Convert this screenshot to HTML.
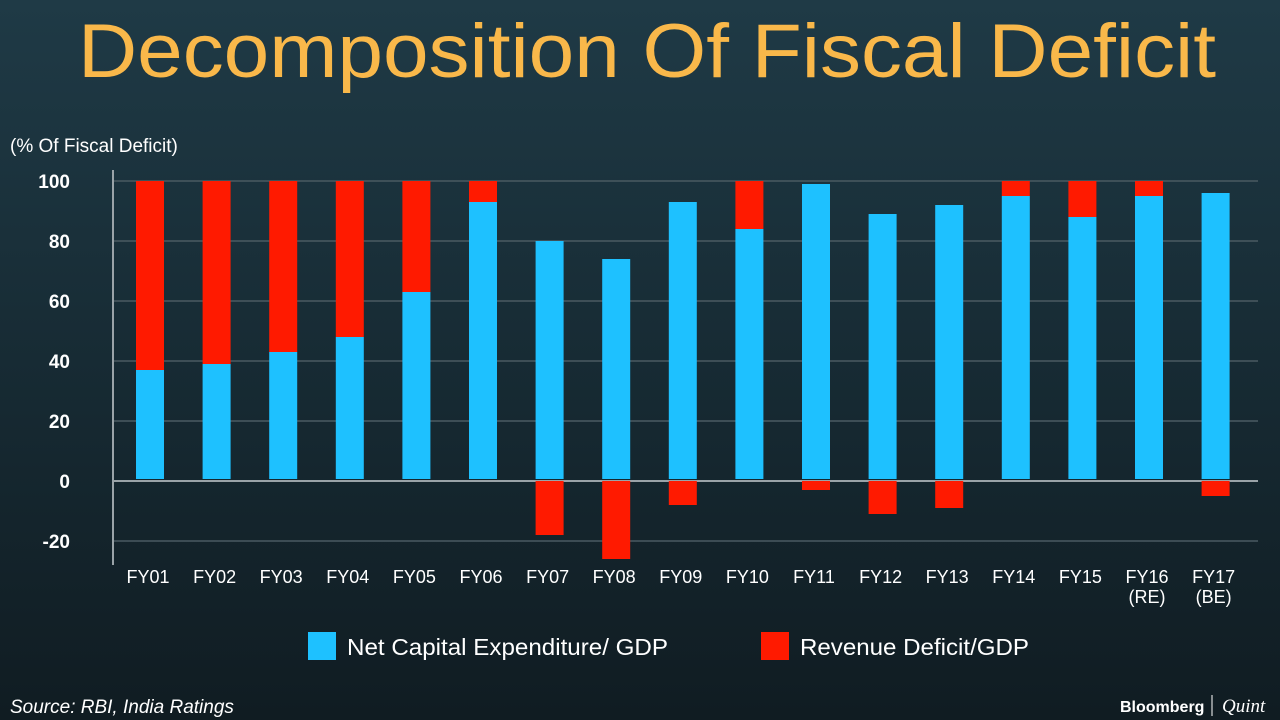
<!DOCTYPE html>
<html><head><meta charset="utf-8"><style>
html,body{margin:0;width:1280px;height:720px;overflow:hidden;}
body{background:linear-gradient(180deg,#1f3a46 0%,#172b34 50%,#101c22 100%);font-family:"Liberation Sans",sans-serif;}
svg{display:block}
</style></head><body>
<svg id="c" width="1280" height="720" xmlns="http://www.w3.org/2000/svg">
<text x="647" y="77" text-anchor="middle" font-size="76" textLength="1138" lengthAdjust="spacingAndGlyphs" fill="#f9b84a">Decomposition Of Fiscal Deficit</text>
<text x="10" y="152" font-size="19" fill="#fff">(% Of Fiscal Deficit)</text>
<g id="grid"></g><g id="bars"></g><g id="xl"></g>
<rect x="308" y="632" width="28" height="28" fill="#1ec1ff"/>
<text x="347" y="655" font-size="23" textLength="321" lengthAdjust="spacingAndGlyphs" fill="#fff">Net Capital Expenditure/ GDP</text>
<rect x="761" y="632" width="28" height="28" fill="#ff1a00"/>
<text x="800" y="655" font-size="23" textLength="229" lengthAdjust="spacingAndGlyphs" fill="#fff">Revenue Deficit/GDP</text>
<text x="10" y="713" font-size="19" font-style="italic" fill="#fff">Source: RBI, India Ratings</text>
<text x="1120" y="712" font-size="16" font-weight="bold" fill="#fff">Bloomberg</text>
<line x1="1212" y1="695" x2="1212" y2="716" stroke="#fff" stroke-width="1"/>
<text x="1222" y="712" font-size="19" font-style="italic" font-family="Liberation Serif,serif" fill="#fff">Quint</text>
</svg>
<script>
const categories=["FY01","FY02","FY03","FY04","FY05","FY06","FY07","FY08","FY09","FY10","FY11","FY12","FY13","FY14","FY15","FY16\n(RE)","FY17\n(BE)"];
const capex=[37,39,43,48,63,93,80,74,93,84,99,89,92,95,88,95,96];
const revenue=[63,61,57,52,37,7,-18,-26,-8,16,-3,-11,-9,5,12,5,-5];
const yTicks=[100,80,60,40,20,0,-20];
const NS="http://www.w3.org/2000/svg";
const y=v=>481-v*3;
const x=i=>150+i*66.6;
function mk(t,a,p){const e=document.createElementNS(NS,t);for(const k in a)e.setAttribute(k,a[k]);document.getElementById(p).appendChild(e);return e;}
yTicks.forEach(t=>{
  const l=mk('line',{x1:113,x2:1258,y1:y(t),y2:y(t),stroke:t===0?'#9aa3a8':'#4a5a62','stroke-width':t===0?2:1.5},'grid');
  
  
  const tx=mk('text',{x:70,y:y(t)+7,'text-anchor':'end','font-size':19,'font-weight':'bold',fill:'#fff'},'grid');
  tx.textContent=t;
  
  
});
const ax=mk('line',{x1:113,x2:113,y1:170,y2:565,stroke:'#9aa3a8','stroke-width':2},'grid');


categories.forEach((c,i)=>{
  const cx=x(i);
  const b=mk('rect',{x:cx-14,y:y(capex[i]),width:28,height:capex[i]*3-2,fill:'#1ec1ff'},'bars');
  
  
  const r=revenue[i];let ry,rh;
  if(r>=0){ry=y(capex[i]+r);rh=r*3;}else{ry=y(0);rh=-r*3;}
  const rb=mk('rect',{x:cx-14,y:ry,width:28,height:rh,fill:'#ff1a00'},'bars');
  
  
  c.split("\n").forEach((s,j)=>{
    const t=mk('text',{x:cx-2,y:583+j*20,'text-anchor':'middle','font-size':18,fill:'#fff'},'xl');
    t.textContent=s;
    
    
  });
});
</script>
</body></html>
